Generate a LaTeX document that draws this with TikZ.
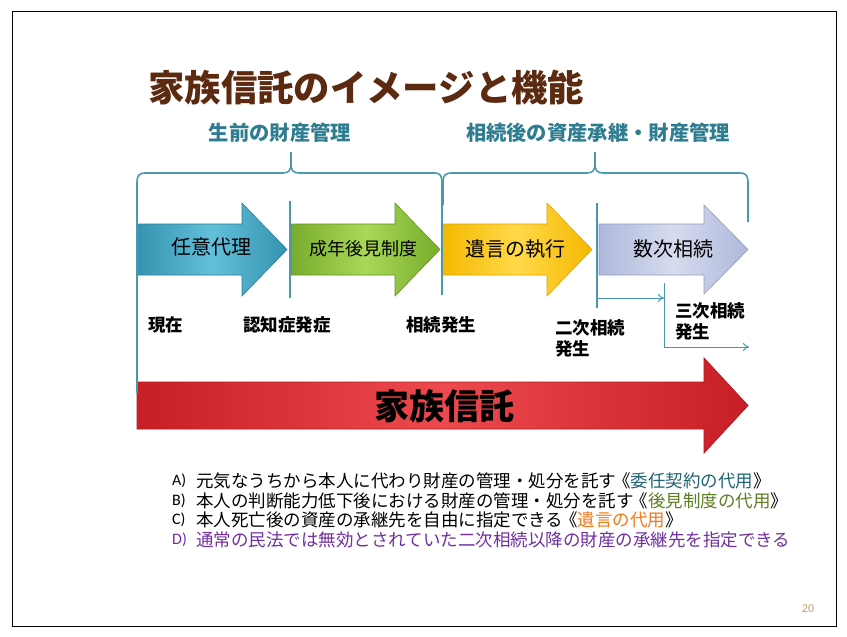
\documentclass[tikz,border=0pt]{standalone}
\usepackage{fontspec}
\newfontfamily\cjk{Noto Sans CJK JP}
\newfontfamily\lat{Carlito}
\usetikzlibrary{arrows.meta}
\definecolor{tealline}{HTML}{4A98AE}
\definecolor{tealtext}{HTML}{2E7C90}
\definecolor{titlebrown}{HTML}{5B2A10}
\definecolor{bluedark}{HTML}{3593B1}
\definecolor{bluelight}{HTML}{62C0DA}
\definecolor{greendark}{HTML}{78AC2C}
\definecolor{greenlight}{HTML}{A9D857}
\definecolor{yellowdark}{HTML}{F5B800}
\definecolor{yellowlight}{HTML}{FFD94A}
\definecolor{lavdark}{HTML}{AEB8DB}
\definecolor{lavlight}{HTML}{D6DCEE}
\definecolor{reddark}{HTML}{C81E26}
\definecolor{redlight}{HTML}{EC4A4E}
\definecolor{itemteal}{HTML}{1F6470}
\definecolor{itemgreen}{HTML}{5C7F26}
\definecolor{itemorange}{HTML}{F07B1C}
\definecolor{itempurple}{HTML}{7030A0}
\definecolor{pagenum}{HTML}{C0A070}
\tikzset{
  tline/.style={draw=tealline, line width=1.8pt},
  brace/.style={draw=tealline, line width=1.6pt, line join=round},
  thin arrow/.style={draw=tealline, line width=1pt, -{To[length=6pt,width=8pt]}},
  fat/.style={line width=0.6pt},
  arrowlabel/.style={font=\cjk\fontsize{20}{24}\selectfont, text=black, inner sep=0pt},
  eventlabel/.style={font=\cjk\bfseries\fontsize{17.5}{21}\selectfont, text=black, inner sep=0pt, anchor=west, align=left},
  bracelabel/.style={font=\cjk\bfseries\fontsize{20.3}{24}\selectfont, text=tealtext, inner sep=0pt},
  itemkey/.style={font=\lat\fontsize{16}{19}\selectfont, text=black, inner sep=0pt, anchor=west},
  itemtext/.style={font=\cjk\fontsize{17.5}{20}\selectfont, text=black, inner sep=0pt, anchor=west},
}
\begin{document}
\begin{tikzpicture}[x=1pt,y=-1pt]
\useasboundingbox (0,0) rectangle (847,637);
\fill[white] (0,0) rectangle (847,637);
\draw[black, line width=1pt] (12,11) rectangle (836,626);

% title
\node[anchor=west, inner sep=0pt, text=titlebrown, font=\cjk\bfseries\fontsize{36.4}{40}\selectfont] (title) at (148,88) {家族信託のイメージと機能};

% brace labels
\node[bracelabel] (lifetime) at (280,133) {生前の財産管理};
\node[bracelabel] (after) at (598,133) {相続後の資産承継・財産管理};

% phase arrows
\shade[fat, draw=bluedark!85!black, left color=bluedark, right color=bluedark, middle color=bluelight]
  (137,224) -- (242,224) -- (242,203) -- (287,249.5) -- (242,296) -- (242,275) -- (137,275) -- cycle;
\shade[fat, draw=greendark!85!black, left color=greendark, right color=greendark, middle color=greenlight]
  (291,224) -- (395,224) -- (395,203) -- (440,249.5) -- (395,296) -- (395,275) -- (291,275) -- cycle;
\shade[fat, draw=yellowdark!90!black, left color=yellowdark, right color=yellowdark, middle color=yellowlight]
  (442,224) -- (547,224) -- (547,203) -- (592,249.5) -- (547,296) -- (547,275) -- (442,275) -- cycle;
\shade[fat, draw=lavdark!85!black, left color=lavdark, right color=lavdark, middle color=lavlight]
  (599,224) -- (704,224) -- (704,205) -- (748,249.5) -- (704,294) -- (704,275) -- (599,275) -- cycle;

\node[arrowlabel] (p1) at (211,247) {任意代理};
\node[arrowlabel, font=\cjk\fontsize{18}{22}\selectfont] (p2) at (363,249) {成年後見制度};
\node[arrowlabel] (p3) at (515,249) {遺言の執行};
\node[arrowlabel] (p4) at (673,249) {数次相続};

% braces
\draw[brace] (137,205) -- (137,182) .. controls (137,176) and (139,173) .. (145,173) -- (283,173)
  .. controls (289,173) and (291,170) .. (291,164) -- (291,152);
\draw[brace] (291,164) .. controls (291,170) and (293,173) .. (299,173) -- (435,173)
  .. controls (440,173) and (442,176) .. (442,182) -- (442,205);
\draw[brace] (443,205) -- (443,182) .. controls (443,176) and (445,173) .. (451,173) -- (587,173)
  .. controls (593,173) and (595,170) .. (595,164) -- (595,152);
\draw[brace] (595,164) .. controls (595,170) and (597,173) .. (603,173) -- (740,173)
  .. controls (746,173) and (748,176) .. (748,182) -- (748,222);

% red arrow
\shade[line width=0.8pt, draw=reddark!90!black, left color=reddark, right color=reddark, middle color=redlight]
  (137,382) -- (704,382) -- (704,358) -- (748,405.5) -- (704,453) -- (704,429) -- (137,429) -- cycle;
\node[inner sep=0pt, text=black, font=\cjk\bfseries\fontsize{35}{40}\selectfont] (trust) at (444,406) {家族信託};

% timeline vertical lines
\draw[tline] (137,200) -- (137,393);
\draw[tline] (290,201) -- (290,298);
\draw[tline] (442,200) -- (442,295);
\draw[tline] (597,203) -- (597,308);

% event labels
\node[eventlabel] (now) at (148,325) {現在};
\node[eventlabel] (dementia) at (243,325) {認知症発症};
\node[eventlabel] (inherit) at (406,325) {相続発生};
\node[eventlabel] (second) at (555,338) {二次相続\\発生};
\node[eventlabel] (third) at (675,321) {三次相続\\発生};

% small arrows
\coordinate (s1) at (598,298);
\coordinate (s1e) at (664,298);
\coordinate (s2t) at (664,283);
\coordinate (s2c) at (664,347);
\coordinate (s2e) at (749,347);
\draw[thin arrow] (s1) -- (s1e);
\draw[thin arrow] (s2t) -- (s2c) -- (s2e);

% list
\node[itemkey] (ka) at (172,481) {A)};
\node[itemtext] (ta) at (196,481) {元気なうちから本人に代わり財産の管理・処分を託す\kern-3pt《\textcolor{itemteal}{委任契約の代用}》};
\node[itemkey] (kb) at (172,500.5) {B)};
\node[itemtext] (tb) at (196,500.5) {本人の判断能力低下後における財産の管理・処分を託す\kern-3pt《\textcolor{itemgreen}{後見制度の代用}》};
\node[itemkey] (kc) at (172,520) {C)};
\node[itemtext] (tc) at (196,520) {本人死亡後の資産の承継先を自由に指定できる\kern-3pt《\textcolor{itemorange}{遺言の代用}》};
\node[itemkey, text=itempurple] (kd) at (172,540) {D)};
\node[itemtext, text=itempurple] (td) at (196,540) {通常の民法では無効とされていた二次相続以降の財産の承継先を指定できる};

\node[inner sep=0pt, text=pagenum, font=\lat\fontsize{12}{14}\selectfont] (page) at (808,609) {20};
\end{tikzpicture}
\end{document}
